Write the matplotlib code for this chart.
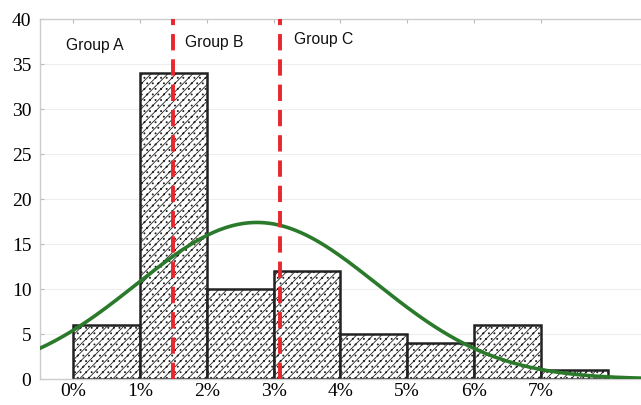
import numpy as np
import matplotlib.pyplot as plt

# histogram bins (percent) and counts
bin_left = [0, 1, 2, 3, 4, 5, 6, 7]
counts = [6, 34, 10, 12, 5, 4, 6, 1]
tick_pos = [0, 1, 2, 3, 4, 5, 6, 7]
tick_labels = ['0%', '1%', '2%', '3%', '4%', '5%', '6%', '7%']

# fitted normal curve parameters
fit_mean = 2.75
fit_sd = 1.8
fit_peak = 17.4

# group boundaries
cut_lines = [1.5, 3.1]
groups = ['Group A', 'Group B', 'Group C']
group_x = [-0.1, 1.68, 3.3]
group_y = [37.9, 38.2, 38.6]


def main():
	plt.rcParams['hatch.linewidth'] = 0.6
	plt.rcParams['hatch.color'] = '#555555'

	fig = plt.figure(figsize=(6.41, 4.05), dpi=100)
	ax = fig.add_axes([0.062, 0.064, 0.938, 0.889])

	ax.bar(bin_left, counts, width=1.0, align='edge', color='white',
		edgecolor='#222222', linewidth=1.8, hatch='////...', zorder=2)

	xs = np.linspace(-0.5, 8.5, 300)
	ys = fit_peak * np.exp(-(xs - fit_mean) ** 2 / (2 * fit_sd ** 2))
	ax.plot(xs, ys, color='#2b7a2b', linewidth=2.6, zorder=4)

	for c in cut_lines:
		ax.plot([c, c], [0, 40], color='#e8262c', linewidth=2.8,
			linestyle=(0, (4.2, 2.3)), zorder=5, clip_on=False)

	for name, gx, gy in zip(groups, group_x, group_y):
		ax.text(gx, gy, name, fontsize=11.3, family='Liberation Sans',
			va='top', ha='left', color='#111111')

	ax.set_xlim(-0.5, 8.5)
	ax.set_ylim(0, 40)
	ax.set_xticks(tick_pos)
	ax.set_xticklabels(tick_labels)
	ax.set_yticks(range(0, 41, 5))
	for lab in ax.get_xticklabels() + ax.get_yticklabels():
		lab.set_family('Liberation Serif')
		lab.set_fontsize(14)
	ax.tick_params(axis='x', length=0, pad=3)
	ax.tick_params(axis='y', length=0, pad=6)
	ax.tick_params(top=True, direction='in', length=3, color='#bbbbbb')
	ax.yaxis.grid(True, color='#eeeeee', linewidth=0.8, zorder=0)
	ax.set_axisbelow(True)
	for side in ['left', 'top', 'bottom']:
		ax.spines[side].set_color('#cccccc')
		ax.spines[side].set_linewidth(1.0)
	ax.spines['right'].set_visible(False)

	plt.savefig('out.png', dpi=100)


if __name__ == "__main__":
	main()
